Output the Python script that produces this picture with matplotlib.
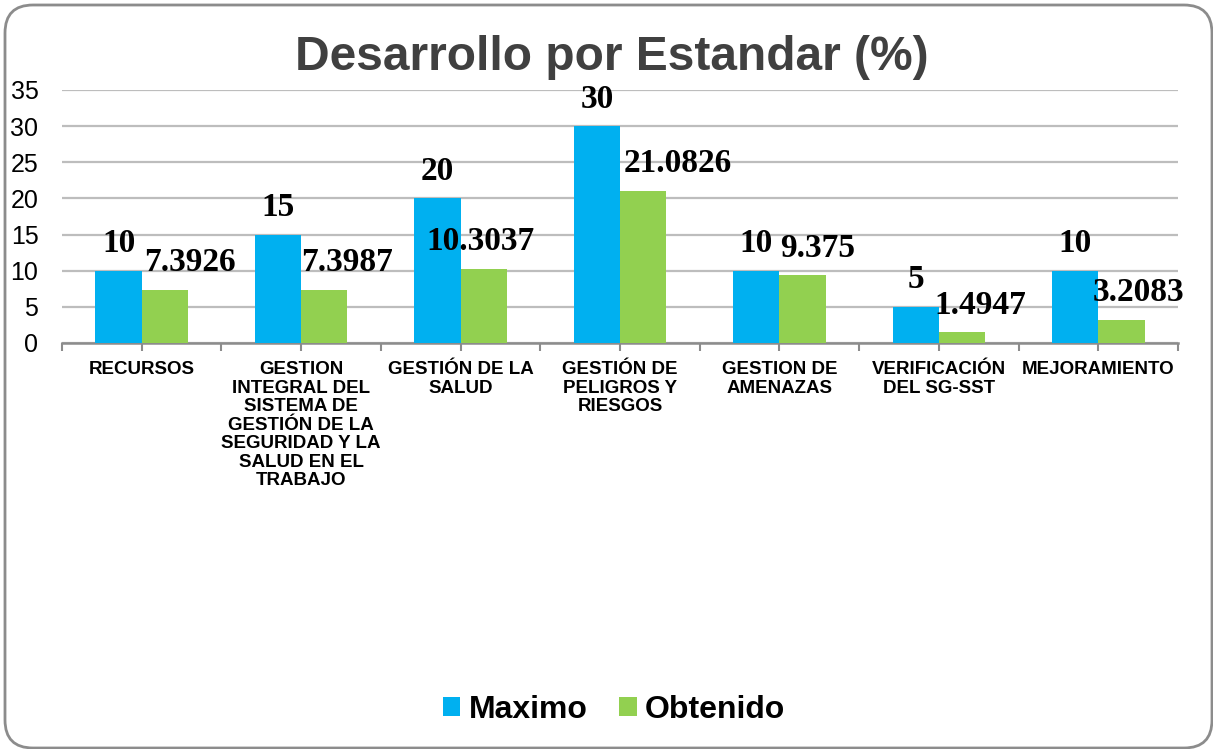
import numpy as np
import matplotlib
matplotlib.use("Agg")
import matplotlib.pyplot as plt
from matplotlib.patches import FancyBboxPatch

categories = [
    "RECURSOS",
    "GESTION\nINTEGRAL DEL\nSISTEMA DE\nGESTIÓN DE LA\nSEGURIDAD Y LA\nSALUD EN EL\nTRABAJO",
    "GESTIÓN DE LA\nSALUD",
    "GESTIÓN DE\nPELIGROS Y\nRIESGOS",
    "GESTION DE\nAMENAZAS",
    "VERIFICACIÓN\nDEL SG-SST",
    "MEJORAMIENTO",
]
maximo = [10, 15, 20, 30, 10, 5, 10]
obtenido = [7.3926, 7.3987, 10.3037, 21.0826, 9.375, 1.4947, 3.2083]
maximo_txt = ["10", "15", "20", "30", "10", "5", "10"]
obtenido_txt = ["7.3926", "7.3987", "10.3037", "21.0826", "9.375", "1.4947", "3.2083"]

# label nudges (pixels) for the Obtenido labels, like Excel's auto placement
obt_dx = [2, 0, -34, 4, 1, -4, -6]

blue = "#00B0F0"
green = "#92D050"

plt.rcParams["font.family"] = ["Liberation Sans", "DejaVu Sans"]

W, H = 1213, 749
fig = plt.figure(figsize=(W / 100, H / 100), dpi=100)
ax = fig.add_axes([62 / W, 1 - 343 / H, (1178 - 62) / W, (343 - 90) / H])

x = np.arange(len(categories))
bw = 0.29
ax.bar(x - bw / 2, maximo, bw, color=blue, label="Maximo", zorder=3)
ax.bar(x + bw / 2, obtenido, bw, color=green, label="Obtenido", zorder=3)

lab_font = dict(family=["Liberation Serif", "DejaVu Serif"], fontsize=24, fontweight="bold")
for i in range(len(categories)):
    ax.annotate(maximo_txt[i], (x[i] - bw / 2, maximo[i]), xytext=(0, 19.5),
                textcoords="offset points", ha="center", va="center", **lab_font)
    ax.annotate(obtenido_txt[i], (x[i], obtenido[i]), xytext=(obt_dx[i] * 0.72, 19.5),
                textcoords="offset points", ha="left", va="center", **lab_font)

ax.set_xlim(-0.5, len(categories) - 0.5)
ax.set_ylim(0, 35)
ax.set_yticks(range(0, 36, 5))
ax.yaxis.grid(True, color="#BDBDBD", linewidth=1.6, zorder=0)
ax.set_axisbelow(True)
ax.tick_params(axis="y", length=0, pad=17, labelsize=18)

ax.set_xticks(x)
ax.set_xticklabels(categories, fontsize=13.5, fontweight="bold", linespacing=1.12)
ax.set_xticks(np.arange(-0.5, len(categories), 1), minor=True)
ax.tick_params(axis="x", which="both", length=6, width=1.5, color="#8C8C8C", pad=7, direction="out")

for s in ["top", "left", "right"]:
    ax.spines[s].set_visible(False)
ax.spines["bottom"].set_color("#8C8C8C")
ax.spines["bottom"].set_linewidth(1.8)

fig.text(612 / W, 1 - 58 / H, "Desarrollo por Estandar (%)", ha="center", va="center",
         fontsize=34.5, fontweight="bold", color="#404040")

fig.legend(loc="center", bbox_to_anchor=(614 / W, 1 - 710 / H), ncol=2, frameon=False,
           prop=dict(size=23, weight="bold"), handlelength=0.55, handleheight=0.55,
           handletextpad=0.25, columnspacing=1.0)

border = FancyBboxPatch((5, 1), 1207, 743, boxstyle="round,pad=0,rounding_size=28",
                        transform=None, facecolor="none", edgecolor="#8C8C8C", linewidth=2)
fig.add_artist(border)

fig.savefig("out.png", dpi=100)
